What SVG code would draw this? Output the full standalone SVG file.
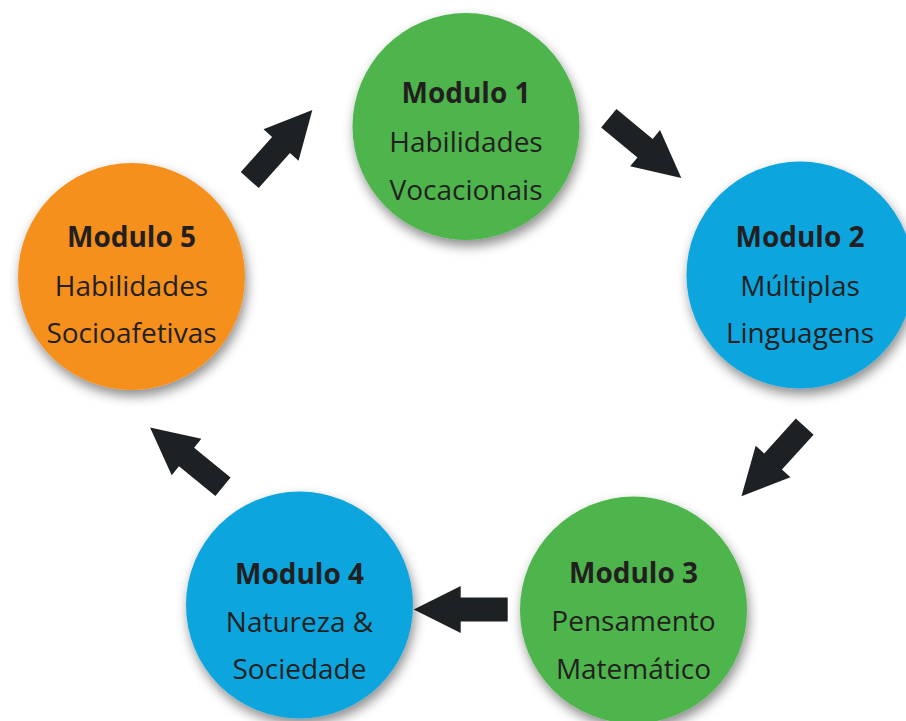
<svg xmlns="http://www.w3.org/2000/svg" width="906" height="721" viewBox="0 0 906 721">
<defs>
<filter id="sh" x="-30%" y="-30%" width="160%" height="160%">
<feDropShadow dx="2" dy="6" stdDeviation="6" flood-color="#000" flood-opacity="0.45"/>
</filter>
<path id="arr" d="M0,-12 L47,-12 L47,-23.5 L94,0 L47,23.5 L47,12 L0,12 Z"/>
</defs>
<style>
.green{fill:#4db54b}
.blue{fill:#0aa5de}
.orange{fill:#f6901f}
.c{filter:url(#sh)}
text{font-family:"Open Sans","Liberation Sans",sans-serif;font-size:28px;fill:#231f20;text-anchor:middle}
.t{font-weight:bold}
.a{fill:#1e2124}
</style>
<rect width="906" height="721" fill="#fff"/>
<g id="connectors">
<use href="#arr" class="a" transform="translate(249.7,180) rotate(-48.2)"/>
<use href="#arr" class="a" transform="translate(608.8,118.3) rotate(39.5)"/>
<use href="#arr" class="a" transform="translate(804.7,426.7) rotate(132.3)"/>
<use href="#arr" class="a" transform="translate(507.7,609.5) rotate(180)"/>
<use href="#arr" class="a" transform="translate(223,486.7) rotate(-140.9)"/>
</g>
<g id="m1">
<circle class="c green" cx="466" cy="126.5" r="113.5"/>
<text x="466" y="103" class="t">Modulo 1</text>
<text x="466" y="152">Habilidades</text>
<text x="466" y="200">Vocacionais</text>
</g>
<g id="m2">
<circle class="c blue" cx="800" cy="275" r="113.5"/>
<text x="800" y="247" class="t">Modulo 2</text>
<text x="800" y="296">Múltiplas</text>
<text x="800" y="343">Linguagens</text>
</g>
<g id="m3">
<circle class="c green" cx="633.5" cy="610" r="113.5"/>
<text x="633.5" y="583" class="t">Modulo 3</text>
<text x="633.5" y="631">Pensamento</text>
<text x="633.5" y="679">Matemático</text>
</g>
<g id="m4">
<circle class="c blue" cx="299.5" cy="605" r="113.5"/>
<text x="299.5" y="584" class="t">Modulo 4</text>
<text x="299.5" y="632">Natureza &amp;</text>
<text x="299.5" y="679">Sociedade</text>
</g>
<g id="m5">
<circle class="c orange" cx="131.5" cy="276.5" r="113.5"/>
<text x="131.5" y="247" class="t">Modulo 5</text>
<text x="131.5" y="296">Habilidades</text>
<text x="131.5" y="343">Socioafetivas</text>
</g>
</svg>
